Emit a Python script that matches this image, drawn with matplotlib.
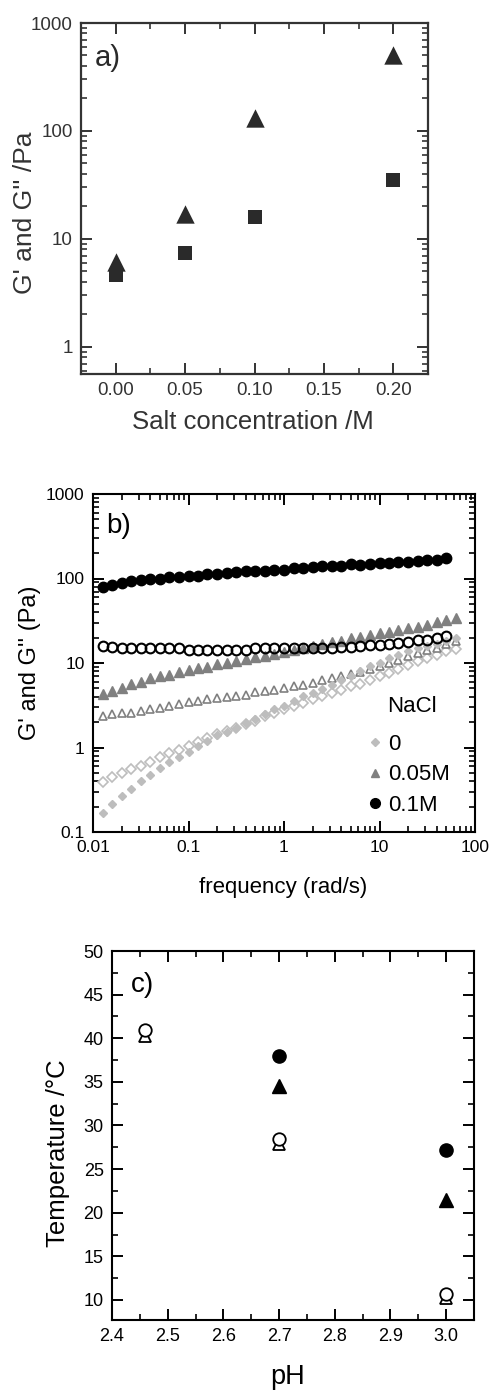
import matplotlib
matplotlib.use("Agg")
import matplotlib.pyplot as plt
from matplotlib.ticker import LogLocator, MultipleLocator, FixedLocator, FixedFormatter, NullFormatter
from matplotlib.lines import Line2D

plt.rcParams['font.family'] = ['Liberation Sans', 'DejaVu Sans']
plt.rcParams['xtick.direction'] = 'in'
plt.rcParams['ytick.direction'] = 'in'
plt.rcParams['xtick.top'] = True
plt.rcParams['ytick.right'] = True
plt.rcParams['xtick.major.size'] = 8
plt.rcParams['ytick.major.size'] = 8
plt.rcParams['xtick.minor.size'] = 4.5
plt.rcParams['ytick.minor.size'] = 4.5
plt.rcParams['xtick.major.width'] = 1.4
plt.rcParams['ytick.major.width'] = 1.4
plt.rcParams['xtick.minor.width'] = 1.2
plt.rcParams['ytick.minor.width'] = 1.2

# ---------------- Panel a data ----------------
salt_conc = [0.00, 0.05, 0.10, 0.20]
a_triangle = [6.1, 17.0, 132.0, 500.0]
a_square = [4.6, 7.4, 16.0, 35.0]

# ---------------- Panel b data ----------------
freq = [0.0126, 0.0158, 0.0200, 0.0251, 0.0316, 0.0398, 0.0501, 0.0631, 0.0794,
        0.100, 0.126, 0.158, 0.200, 0.251, 0.316, 0.398, 0.501, 0.631, 0.794,
        1.00, 1.26, 1.58, 2.00, 2.51, 3.16, 3.98, 5.01, 6.31, 7.94,
        10.0, 12.6, 15.8, 20.0, 25.1, 31.6, 39.8, 50.1, 63.1]

g1_01M = [79.8, 84.2, 88.1, 92.2, 95.5, 99.1, 98.2, 102.8, 103.7, 107.5, 107.5, 112.5,
          112.5, 117.7, 118.8, 122.0, 123.0, 122.0, 127.7, 127.7, 133.5, 134.7, 135.9,
          139.6, 140.8, 139.6, 147.4, 146.2, 150.0, 152.8, 152.8, 158.5, 158.5, 159.9,
          164.3, 167.4, 173.4]
g2_01M = [15.7, 15.4, 14.9, 14.9, 14.9, 14.9, 14.9, 14.9, 14.9, 14.4, 14.4, 14.4, 14.4,
          14.4, 14.4, 14.4, 14.9, 14.9, 14.9, 14.9, 14.9, 14.9, 14.9, 14.9, 14.9, 15.6,
          15.6, 15.8, 16.3, 16.3, 16.6, 17.2, 17.8, 18.5, 18.8, 19.5, 20.6]
g1_005M = [4.24, 4.64, 5.08, 5.66, 5.92, 6.66, 6.97, 7.29, 7.84, 8.35, 8.81, 8.97, 9.64,
           10.0, 10.46, 11.14, 11.77, 12.2, 12.76, 13.47, 14.35, 14.88, 15.71, 16.59,
           17.51, 18.31, 19.68, 20.23, 21.54, 22.54, 23.37, 24.45, 25.81, 27.01, 28.51,
           30.64, 32.35, 34.15]
g2_005M = [2.36, 2.47, 2.53, 2.58, 2.70, 2.82, 2.93, 3.09, 3.29, 3.45, 3.54, 3.70, 3.87,
           3.98, 4.05, 4.13, 4.52, 4.64, 4.77, 5.08, 5.32, 5.46, 5.82, 6.37, 6.66, 7.10,
           7.49, 7.77, 8.50, 9.14, 10.0, 10.94, 12.20, 13.11, 14.09, 15.02, 16.89, 17.98]
g1_0 = [0.169, 0.215, 0.270, 0.324, 0.405, 0.473, 0.566, 0.666, 0.763, 0.889, 1.046,
        1.198, 1.397, 1.529, 1.719, 1.968, 2.194, 2.466, 2.825, 3.092, 3.540, 4.054,
        4.357, 4.944, 5.561, 6.368, 6.968, 7.980, 9.138, 10.0, 11.45, 12.53, 13.72,
        15.02, 15.71, 16.89, 17.98, 19.68]
g2_0 = [0.395, 0.444, 0.499, 0.556, 0.609, 0.678, 0.763, 0.858, 0.939, 1.046, 1.166,
        1.311, 1.435, 1.571, 1.719, 1.882, 2.060, 2.358, 2.535, 2.825, 3.092, 3.384,
        3.704, 4.054, 4.357, 4.770, 5.315, 5.713, 6.254, 6.968, 7.627, 8.501, 9.387,
        10.46, 11.45, 12.53, 13.72, 14.61]
nacl_labels = ['0', '0.05M', '0.1M']

# ---------------- Panel c data ----------------
ph_all = [2.46, 2.70, 3.00]
c_open_circle = [41.0, 28.4, 10.7]
c_open_triangle = [40.3, 27.9, 10.2]
ph_filled = [2.70, 3.00]
c_filled_circle = [38.0, 27.2]
c_filled_triangle = [34.5, 21.5]

W, H = 491, 1391
fig = plt.figure(figsize=(W / 100, H / 100), dpi=100)


def ax_at(left, top, right, bottom):
    return fig.add_axes([left / W, (H - bottom) / H, (right - left) / W, (bottom - top) / H])


def style(ax, color='black', lw=1.5, labelsize=12.5):
    for s in ax.spines.values():
        s.set_linewidth(lw)
        s.set_color(color)
    ax.tick_params(which='both', direction='in', top=True, right=True,
                   bottom=True, left=True, color=color, labelcolor=color)
    ax.tick_params(which='major', labelsize=labelsize, pad=6)


# ---------------- Panel a ----------------
ca = '#2a2a2a'
axa = ax_at(81, 23, 428, 374)
axa.scatter(salt_conc, a_square, marker='s', s=100, color=ca, zorder=3, linewidths=0)
axa.scatter(salt_conc, a_triangle, marker='^', s=175, color=ca, zorder=3, linewidths=0)
axa.set_yscale('log')
axa.set_ylim(0.56, 1000)
axa.set_xlim(-0.025, 0.225)
axa.xaxis.set_major_locator(FixedLocator([0.0, 0.05, 0.10, 0.15, 0.20]))
axa.xaxis.set_major_formatter(FixedFormatter(['0.00', '0.05', '0.10', '0.15', '0.20']))
axa.xaxis.set_minor_locator(MultipleLocator(0.025))
axa.yaxis.set_major_locator(FixedLocator([1, 10, 100, 1000]))
axa.yaxis.set_major_formatter(FixedFormatter(['1', '10', '100', '1000']))
axa.yaxis.set_minor_locator(LogLocator(base=10, subs=range(2, 10)))
axa.yaxis.set_minor_formatter(NullFormatter())
style(axa, color='#333333', lw=1.6, labelsize=13.5)
axa.text(0.04, 0.9, 'a)', transform=axa.transAxes, fontsize=21, color=ca, va='center')
fig.text(25 / W, 1 - 213 / H, "G' and G'' /Pa", rotation=90, fontsize=19, color='#333333',
         ha='center', va='center')
fig.text(253 / W, 1 - 422 / H, 'Salt concentration /M', fontsize=18.5, color='#333333',
         ha='center', va='center')

# ---------------- Panel b ----------------
axb = ax_at(93, 494, 475, 832)
n1 = len(g1_01M)
axb.plot(freq, g2_0, linestyle='none', marker='D', ms=5.5, mfc='white', mec='#bdbdbd', mew=1.2, zorder=2)
axb.plot(freq, g1_0, linestyle='none', marker='D', ms=4.2, color='#bdbdbd', zorder=3)
axb.plot(freq, g2_005M, linestyle='none', marker='^', ms=6.2, mfc='white', mec='#808080', mew=1.2, zorder=2)
axb.plot(freq, g1_005M, linestyle='none', marker='^', ms=6.5, color='#808080', zorder=3)
axb.plot(freq[:n1], g2_01M, linestyle='none', marker='o', ms=7, mfc='none', mec='black', mew=1.5, zorder=4)
axb.plot(freq[:n1], g1_01M, linestyle='none', marker='o', ms=7.5, color='black', zorder=4)
axb.set_xscale('log')
axb.set_yscale('log')
axb.set_xlim(0.01, 100)
axb.set_ylim(0.1, 1000)
axb.xaxis.set_major_locator(FixedLocator([0.01, 0.1, 1, 10, 100]))
axb.xaxis.set_major_formatter(FixedFormatter(['0.01', '0.1', '1', '10', '100']))
axb.yaxis.set_major_locator(FixedLocator([0.1, 1, 10, 100, 1000]))
axb.yaxis.set_major_formatter(FixedFormatter(['0.1', '1', '10', '100', '1000']))
for axis in (axb.xaxis, axb.yaxis):
    axis.set_minor_locator(LogLocator(base=10, subs=range(2, 10), numticks=20))
    axis.set_minor_formatter(NullFormatter())
style(axb, labelsize=12.5)
axb.text(0.035, 0.905, 'b)', transform=axb.transAxes, fontsize=20, va='center')
handles = [
    Line2D([], [], linestyle='none', marker='D', ms=4.2, color='#bdbdbd'),
    Line2D([], [], linestyle='none', marker='^', ms=6.0, color='#808080'),
    Line2D([], [], linestyle='none', marker='o', ms=7.0, color='black'),
]
leg = axb.legend(handles, nacl_labels, loc='upper left',
                 bbox_to_anchor=((369 - 93) / 382, (832 - 734) / 338), frameon=False,
                 fontsize=16, handlelength=0.5, handletextpad=0.35,
                 labelspacing=0.42, borderpad=0.0, borderaxespad=0.0)
axb.text((387 - 93) / 382, (832 - 707) / 338, 'NaCl', transform=axb.transAxes,
         fontsize=16, va='center', ha='left')
fig.text(30 / W, 1 - 663 / H, "G' and G'' (Pa)", rotation=90, fontsize=17,
         ha='center', va='center')
fig.text(283 / W, 1 - 888 / H, 'frequency (rad/s)', fontsize=16, ha='center', va='center')

# ---------------- Panel c ----------------
axc = ax_at(112, 951, 474, 1320)
axc.plot(ph_all, c_open_triangle, linestyle='none', marker='^', ms=9, mfc='white', mec='black', mew=1.3, zorder=3)
axc.plot(ph_all, c_open_circle, linestyle='none', marker='o', ms=9, mfc='white', mec='black', mew=1.3, zorder=4)
axc.plot(ph_filled, c_filled_circle, linestyle='none', marker='o', ms=9.5, color='black', zorder=3)
axc.plot(ph_filled, c_filled_triangle, linestyle='none', marker='^', ms=10, color='black', zorder=3)
axc.set_xlim(2.4, 3.05)
axc.set_ylim(7.7, 50)
axc.xaxis.set_major_locator(FixedLocator([2.4, 2.5, 2.6, 2.7, 2.8, 2.9, 3.0]))
axc.xaxis.set_major_formatter(FixedFormatter(['2.4', '2.5', '2.6', '2.7', '2.8', '2.9', '3.0']))
axc.xaxis.set_minor_locator(MultipleLocator(0.05))
axc.yaxis.set_major_locator(MultipleLocator(5))
axc.yaxis.set_minor_locator(MultipleLocator(2.5))
style(axc, labelsize=13)
axc.text(0.052, 0.908, 'c)', transform=axc.transAxes, fontsize=20, va='center')
fig.text(58 / W, 1 - 1153 / H, 'Temperature /\u00b0C', rotation=90, fontsize=18.5,
         ha='center', va='center')
fig.text(288 / W, 1 - 1377 / H, 'pH', fontsize=19.5, ha='center', va='center')

fig.savefig('out.png', dpi=100)
